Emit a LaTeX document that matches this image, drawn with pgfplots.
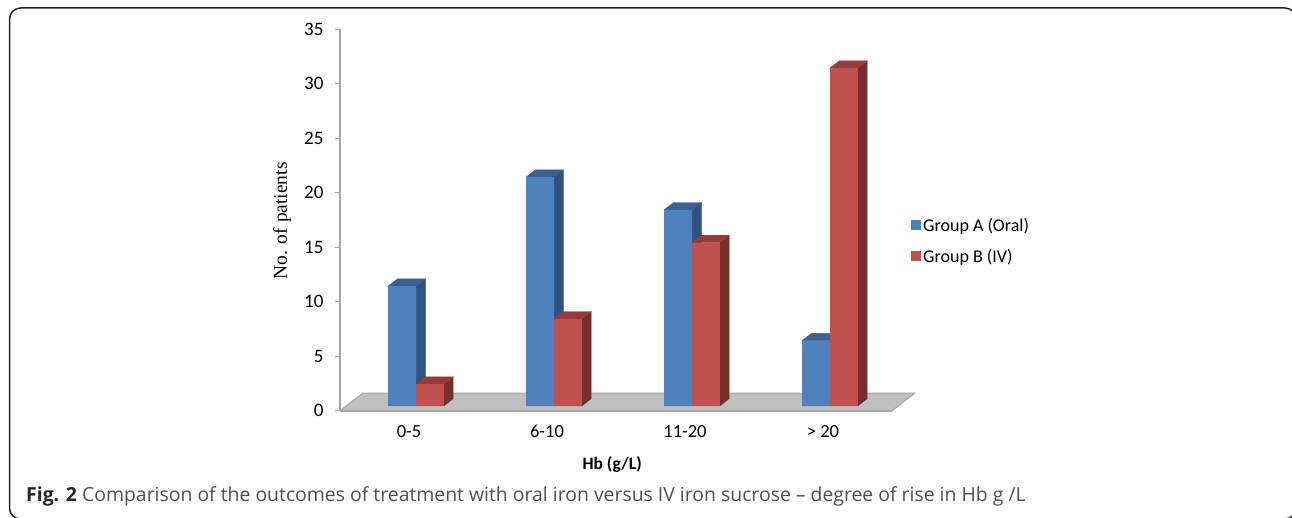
\documentclass[border=0pt]{standalone}
\usepackage{fontspec}
\setmainfont{Carlito}
\newfontfamily\capfont{Open Sans}
\newfontfamily\serifl{Liberation Serif}
\usepackage{pgfplots}
\pgfplotsset{compat=1.18}
\definecolor{barA}{HTML}{4F81BD}
\definecolor{barB}{HTML}{C0504D}
\definecolor{sideA}{HTML}{2F5380}
\definecolor{sideB}{HTML}{7A2E2C}
\definecolor{topA}{HTML}{3B6190}
\definecolor{topB}{HTML}{943C3A}
\definecolor{axgray}{HTML}{A6A6A6}
\definecolor{floorgray}{HTML}{C0C0C0}
\definecolor{captxt}{HTML}{505050}
\pgfplotstableread{
x a b
0 11 2
1 21 8
2 18 15
3 6 31
}\hbdata
% Side and top faces of a bar, from the value of the point
\pgfplotsset{faces/.style n args={3}{
  only marks, scatter, mark=*, mark size=0pt, forget plot,
  point meta=y,
  yshift=4.8pt,
  visualization depends on={rawy \as \vy},
  scatter/@pre marker code/.code={%
    \pgfmathsetmacro\hh{\vy*10.9}%
    \pgfmathsetmacro\xr{#1}%
    \pgfmathsetmacro\xl{#1-27.8}%
    \fill[#2] (\xr pt,-\hh pt) -- (\xr pt+9.3pt,-\hh pt+7.3pt) -- (\xr pt+9.3pt,7.3pt) -- (\xr pt,0pt) -- cycle;
    \fill[#3] (\xl pt,0pt) -- (\xl pt+9.3pt,7.3pt) -- (\xr pt+9.3pt,7.3pt) -- (\xr pt,0pt) -- cycle;
    \begin{scope}
  },
  scatter/@post marker code/.code={\end{scope}},
},
frontbar/.style={ybar,bar width=27.8pt,draw=none,yshift=4.8pt,
  legend image code/.code={\fill[##1,draw=none] (0pt,-9pt) rectangle (10pt,1pt);}},
}
\begin{document}
\begin{tikzpicture}[x=1pt,y=1pt]
\useasboundingbox (0,0) rectangle (1292,517);
\begin{scope}
\clip (0,0) rectangle (1292,517);
\draw[line width=1.5pt,color=black!85,rounded corners=11pt] (9.5,-2) rectangle (1296,509);
\end{scope}
% floor
\fill[floorgray,draw=axgray,line width=1pt] (340,106.2) -- (363,124) -- (915,124) -- (892,106.2) -- cycle;
\begin{axis}[
  at={(340pt,106.2pt)},
  anchor=south west,
  scale only axis, width=552pt, height=381.5pt,
  xmin=-0.5, xmax=3.5, ymin=0, ymax=35,
  clip=false, clip mode=individual,
  axis x line*=bottom, axis y line*=left,
  axis line style={axgray,line width=1.5pt,-},
  xtick={0,1,2,3}, xticklabels={0-5,6-10,11-20,{> 20}},
  x tick style={draw=none},
  ytick={0,5,...,35},
  y tick style={axgray,line width=0.8pt},
  tick align=outside, major tick length=5pt,
  xticklabel style={font=\fontsize{18.5}{19}\selectfont,black,text height=12pt,text depth=0pt,yshift=-6.5pt},
  yticklabel style={font=\fontsize{19}{20}\selectfont,black,xshift=-8pt},
  /pgf/number format/assume math mode=true,
  xlabel={\textbf{Hb (g/L)}},
  xlabel style={font=\fontsize{17.5}{19}\selectfont,at={(axis description cs:0.493,0)},anchor=center,yshift=-53.5pt},
  ylabel={No. of patients},
  ylabel style={font=\fontsize{19.5}{24}\serifl,at={(axis description cs:-0.105,0.498)},anchor=center,rotate=0},
  legend style={draw=none,fill=none,at={(1.029,0.444)},anchor=west,
    font=\fontsize{18}{19}\selectfont,row sep=12pt,/tikz/every even column/.append style={column sep=3pt}},
  legend cell align=left,
]
\addplot[faces={7}{sideA}{topA}] table[x=x,y=a] {\hbdata};
\addplot[frontbar,bar shift=-6.9pt,fill=barA] table[x=x,y=a] {\hbdata};
\addplot[faces={34.8}{sideB}{topB}] table[x=x,y=b] {\hbdata};
\addplot[frontbar,bar shift=20.9pt,fill=barB] table[x=x,y=b] {\hbdata};
\legend{Group A (Oral),Group B (IV)}
\end{axis}
\node[anchor=base west,inner sep=0pt,text=captxt,font=\fontsize{19.4}{22}\capfont] at (26,16) {{\bfseries\color{black!85}Fig. 2} Comparison of the outcomes of treatment with oral iron versus IV iron sucrose – degree of rise in Hb g /L};
\end{tikzpicture}
\end{document}
